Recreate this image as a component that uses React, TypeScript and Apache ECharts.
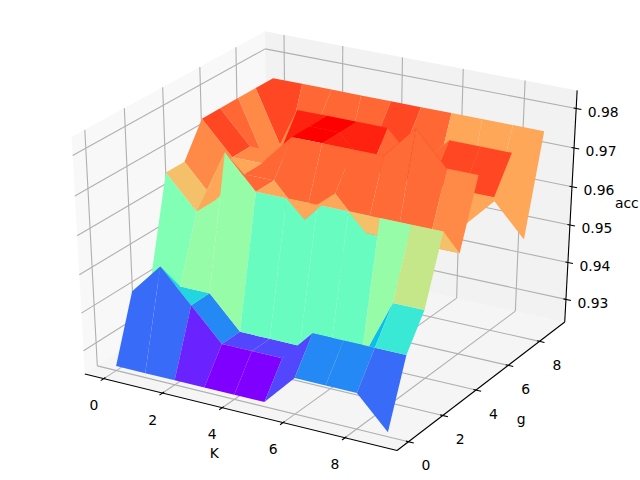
import React, { useEffect, useRef } from "react";
import * as echarts from "echarts";

// Grid values
const kValues = [0, 1, 2, 3, 4, 5, 6, 7, 8, 9];
const gValues = [0, 1, 2, 3, 4, 5, 6, 7, 8, 9];
const accG0 = [0.925, 0.925, 0.925, 0.925, 0.925, 0.925, 0.9333, 0.9333, 0.9333, 0.925];
const accG1 = [0.9417, 0.95, 0.9417, 0.9333, 0.9333, 0.9333, 0.9417, 0.9417, 0.9417, 0.9417];
const accG2 = [0.9417, 0.9417, 0.9417, 0.9333, 0.9333, 0.9333, 0.9333, 0.9333, 0.95, 0.95];
const accG3 = [0.9667, 0.9583, 0.975, 0.9667, 0.9667, 0.9667, 0.9667, 0.9667, 0.9667, 0.9667];
const accG4 = [0.9667, 0.9583, 0.9667, 0.9667, 0.9583, 0.9667, 0.9583, 0.9583, 0.9583, 0.9583];
const accG5 = [0.975, 0.9667, 0.9667, 0.975, 0.975, 0.975, 0.975, 0.9833, 0.975, 0.975];
const accG6 = [0.975, 0.9667, 0.9667, 0.975, 0.975, 0.9667, 0.9667, 0.9667, 0.9667, 0.9667];
const accG7 = [0.975, 0.9583, 0.975, 0.975, 0.975, 0.975, 0.9667, 0.975, 0.975, 0.975];
const accG8 = [0.975, 0.9583, 0.9667, 0.9583, 0.9667, 0.9667, 0.9583, 0.95, 0.9583, 0.95];
const accG9 = [0.975, 0.975, 0.975, 0.975, 0.975, 0.975, 0.975, 0.975, 0.975, 0.975];
const acc = [accG0, accG1, accG2, accG3, accG4, accG5, accG6, accG7, accG8, accG9];

const kTicks = [0, 2, 4, 6, 8];
const gTicks = [0, 2, 4, 6, 8];
const accTicks = [0.93, 0.94, 0.95, 0.96, 0.97, 0.98];

const FONT = '13.9px "DejaVu Sans"';
const W = 640;
const H = 480;

// mplot3d-style camera: elevation 30, azimuth -60, distance 10
const el = (30 * Math.PI) / 180;
const az = (-60 * Math.PI) / 180;
const n = [Math.cos(el) * Math.cos(az), Math.cos(el) * Math.sin(az), Math.sin(el)];
const u = [-Math.sin(az), Math.cos(az), 0];
const v = [n[1] * u[2] - n[2] * u[1], n[2] * u[0] - n[0] * u[2], n[0] * u[1] - n[1] * u[0]];

const flat = acc.flat();
const xR = [kValues[0] - 0.45, kValues[9] + 0.45];
const yR = [gValues[0] - 0.45, gValues[9] + 0.45];
const zR = [Math.min(...flat), Math.max(...flat)];
const nx = (x: number) => (x - xR[0]) / (xR[1] - xR[0]);
const ny = (y: number) => (y - yR[0]) / (yR[1] - yR[0]);
const nz = (z: number) => (z - zR[0]) / (zR[1] - zR[0]);

// Project normalised cube coordinates to pixels
function projN(a: number, b: number, c: number) {
  const p = [a - 0.5, b - 0.5, c - 0.5];
  const X = u[0] * p[0] + u[1] * p[1] + u[2] * p[2];
  const Y = v[0] * p[0] + v[1] * p[1] + v[2] * p[2];
  const D = 10 - (n[0] * p[0] + n[1] * p[1] + n[2] * p[2]);
  return {
    x: ((X / D + 0.095) / 0.185) * W,
    y: H - ((Y / D + 0.095) / 0.185) * H,
    depth: -10 / D,
  };
}
const pt = (a: number, b: number, c: number) => {
  const r = projN(a, b, c);
  return [r.x, r.y];
};

function rainbow(t: number) {
  const i = Math.min(255, Math.max(0, Math.floor(t * 256)));
  const x = i / 255;
  const cl = (w: number) => Math.round(Math.min(1, Math.max(0, w)) * 255);
  return `rgb(${cl(Math.abs(2 * x - 0.5))},${cl(Math.sin(Math.PI * x))},${cl(Math.cos((Math.PI * x) / 2))})`;
}

// Cells of the surface, farthest first
type Cell = { pts: number[][]; mean: number; depth: number };
const rawCells: Cell[] = [];
for (let j = 0; j < gValues.length - 1; j++) {
  for (let i = 0; i < kValues.length - 1; i++) {
    const corners = [
      [i, j],
      [i + 1, j],
      [i + 1, j + 1],
      [i, j + 1],
    ];
    const proj = corners.map(([a, b]) => projN(nx(kValues[a]), ny(gValues[b]), nz(acc[b][a])));
    rawCells.push({
      pts: proj.map((p) => [p.x, p.y]),
      mean: corners.reduce((s, [a, b]) => s + acc[b][a], 0) / 4,
      depth: proj.reduce((s, p) => s + p.depth, 0) / 4,
    });
  }
}
const means = rawCells.map((c) => c.mean);
const vMin = Math.min(...means);
const vMax = Math.max(...means);
const cells = [...rawCells].sort((p, q) => q.depth - p.depth);

const E = 1 / 48; // panes stretch slightly beyond the limits
const lo = -E;
const hi = 1 + E;
const GRID = "#b0b0b0";
const LW = 1.11;

function line(a: number[], b: number[], stroke: string) {
  return {
    type: "line",
    shape: { x1: a[0], y1: a[1], x2: b[0], y2: b[1] },
    style: { stroke, lineWidth: LW },
    silent: true,
  };
}
function text(s: string, x: number, y: number) {
  return {
    type: "text",
    x,
    y,
    style: { text: s, fill: "#000", font: FONT, align: "center", verticalAlign: "middle" },
    silent: true,
  };
}
function pane(points: number[][], fill: string) {
  return { type: "polygon", shape: { points }, style: { fill }, silent: true };
}

function buildFrame() {
  const c: any[] = [];
  c.push(pane([pt(lo, lo, lo), pt(lo, hi, lo), pt(lo, hi, hi), pt(lo, lo, hi)], "rgba(242,242,242,0.5)"));
  c.push(pane([pt(lo, hi, lo), pt(hi, hi, lo), pt(hi, hi, hi), pt(lo, hi, hi)], "rgba(230,230,230,0.5)"));
  c.push(pane([pt(lo, lo, lo), pt(hi, lo, lo), pt(hi, hi, lo), pt(lo, hi, lo)], "rgba(236,236,236,0.5)"));

  for (const k of kTicks) {
    const a = nx(k);
    c.push(line(pt(a, lo, lo), pt(a, hi, lo), GRID));
    c.push(line(pt(a, hi, lo), pt(a, hi, hi), GRID));
  }
  for (const g of gTicks) {
    const b = ny(g);
    c.push(line(pt(hi, b, lo), pt(lo, b, lo), GRID));
    c.push(line(pt(lo, b, lo), pt(lo, b, hi), GRID));
  }
  for (const z of accTicks) {
    const w = nz(z);
    c.push(line(pt(lo, lo, w), pt(lo, hi, w), GRID));
    c.push(line(pt(lo, hi, w), pt(hi, hi, w), GRID));
  }

  c.push(line(pt(lo, lo, lo), pt(hi, lo, lo), "#000"));
  c.push(line(pt(hi, lo, lo), pt(hi, hi, lo), "#000"));
  c.push(line(pt(hi, hi, lo), pt(hi, hi, hi), "#000"));

  const out = 2 * (1 / 12) * 0.1;
  const inn = (1 / 12) * 0.1;
  for (const k of kTicks) {
    const a = nx(k);
    c.push(line(pt(a, lo - out, lo), pt(a, lo + inn, lo), "#000"));
    const p = pt(a, lo, lo);
    c.push(text(String(k), p[0] - 10, p[1] + 26.5));
  }
  for (const g of gTicks) {
    const b = ny(g);
    c.push(line(pt(hi + out, b, lo), pt(hi - inn, b, lo), "#000"));
    const p = pt(hi, b, lo);
    c.push(text(String(g), p[0] + 17.5, p[1] + 23.5));
  }
  for (const z of accTicks) {
    const w = nz(z);
    c.push(line(pt(hi + out, hi, w), pt(hi - inn, hi, w), "#000"));
    const p = pt(hi, hi, w);
    c.push(text(z.toFixed(2), p[0] + 27, p[1] + 3.5));
  }
  const kp = pt(0.5, lo, lo);
  c.push(text("K", kp[0] - 23, kp[1] + 41.5));
  const gp = pt(hi, 0.5, lo);
  c.push(text("g", gp[0] + 37, gp[1] + 35));
  const ap = pt(hi, hi, 0.5);
  c.push(text("acc", ap[0] + 56, ap[1] - 6));
  return c;
}

export default function App() {
  const ref = useRef<HTMLDivElement>(null);
  useEffect(() => {
    document.body.style.margin = "0";
    const chart = echarts.init(ref.current!, undefined, { renderer: "svg" });
    const frame = buildFrame();
    chart.setOption({
      animation: false,
      backgroundColor: "#fff",
      series: [
        {
          type: "custom",
          coordinateSystem: "none",
          silent: true,
          z: 1,
          data: [[0]],
          renderItem: () => ({ type: "group", children: frame }),
        },
        {
          type: "custom",
          coordinateSystem: "none",
          silent: true,
          z: 2,
          progressive: 0,
          data: cells.map((c, i) => [i]),
          renderItem: (_p: any, api: any) => {
            const cell = cells[api.value(0)];
            return {
              type: "polygon",
              shape: { points: cell.pts },
              style: { fill: rainbow((cell.mean - vMin) / (vMax - vMin)) },
              silent: true,
            };
          },
        },
      ],
    });
    return () => chart.dispose();
  }, []);
  return <div ref={ref} style={{ position: "absolute", left: 0, top: 0, width: W, height: H }} />;
}
